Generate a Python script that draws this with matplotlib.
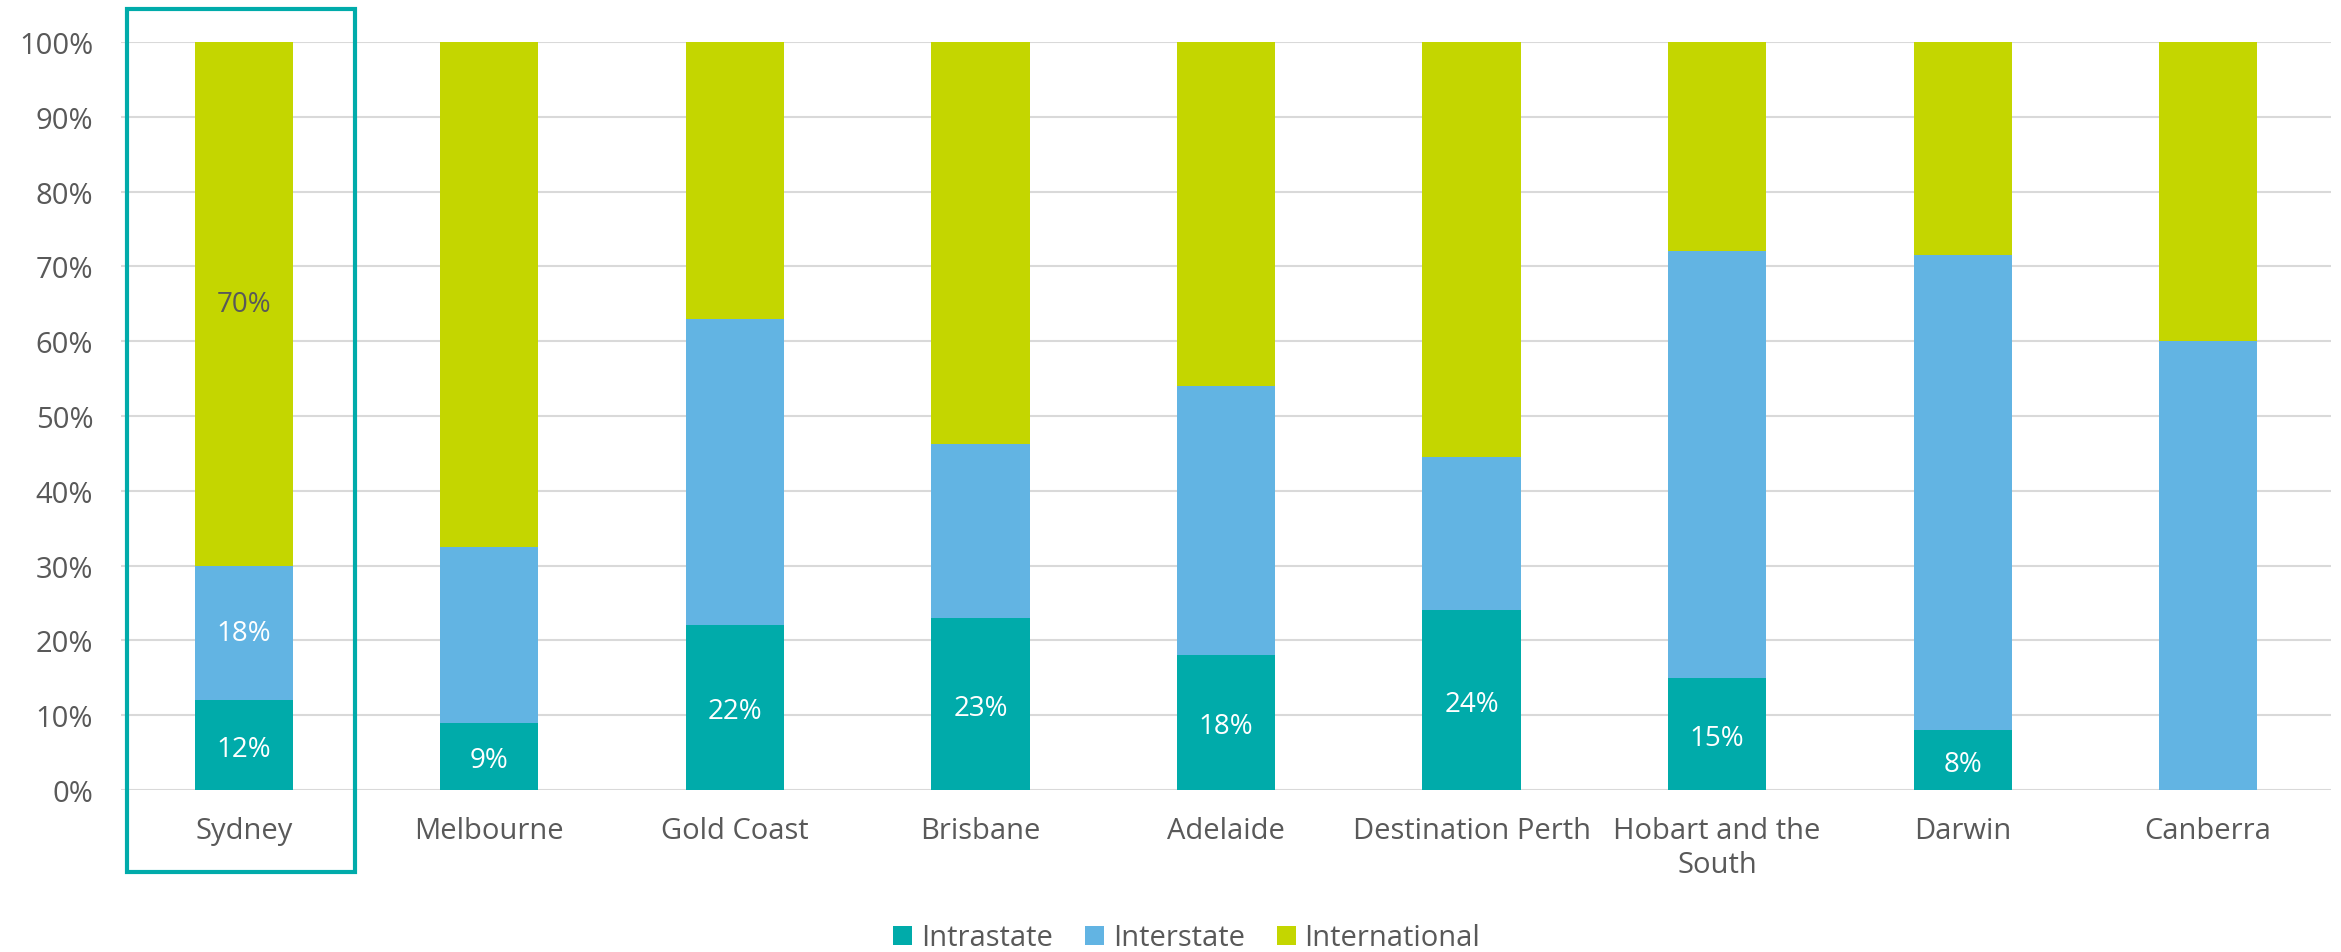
import numpy as np
import matplotlib.pyplot as plt
from matplotlib.patches import Rectangle

plt.rcParams['font.family'] = ['Open Sans', 'DejaVu Sans']

regions = ['Sydney', 'Melbourne', 'Gold Coast', 'Brisbane', 'Adelaide',
           'Destination Perth', 'Hobart and the\nSouth', 'Darwin', 'Canberra']
intrastate = [12, 9, 22, 23, 18, 24, 15, 8, 0]
interstate = [18, 23.5, 41, 23.3, 36, 20.5, 57, 63.5, 60]
international = [70, 67.5, 37, 53.7, 46, 55.5, 28, 28.5, 40]

c_intra = '#00ABAA'
c_inter = '#62B4E3'
c_intl = '#C4D600'
grey = '#595959'

fig = plt.figure(figsize=(23.41, 9.53), dpi=100)
ax = fig.add_axes([0.0517, 0.170, 0.944, 0.785])

x = np.arange(len(regions))
w = 0.4
intra = np.array(intrastate)
inter = np.array(interstate)
intl = np.array(international)

ax.bar(x, intra, w, color=c_intra, label='Intrastate', zorder=3)
ax.bar(x, inter, w, bottom=intra, color=c_inter, label='Interstate', zorder=3)
ax.bar(x, intl, w, bottom=intra + inter, color=c_intl, label='International', zorder=3)

# value labels: intrastate for all, plus the full breakdown for Sydney
for i, v in enumerate(intrastate):
    if v > 0:
        ax.text(i, v / 2 - 0.5, f'{v:.0f}%', ha='center', va='center',
                color='white', fontsize=20, zorder=4)
ax.text(0, intra[0] + inter[0] / 2, f'{inter[0]:.0f}%', ha='center', va='center',
        color='white', fontsize=20, zorder=4)
ax.text(0, intra[0] + inter[0] + intl[0] / 2, f'{intl[0]:.0f}%', ha='center',
        va='center', color=grey, fontsize=20, zorder=4)

ax.set_xlim(-0.5, len(regions) - 0.5)
ax.set_ylim(0, 100)
ax.set_yticks(np.arange(0, 101, 10))
ax.set_yticklabels([f'{t}%' for t in range(0, 101, 10)])
ax.set_xticks(x)
ax.set_xticklabels(regions)
ax.tick_params(axis='both', length=0, labelsize=21, colors=grey)
ax.tick_params(axis='x', pad=19)
ax.tick_params(axis='y', pad=20)
ax.yaxis.grid(True, color='#D9D9D9', lw=1.5, zorder=0)
for s in ax.spines.values():
    s.set_visible(False)

# box around the Sydney column
fig.patches.append(Rectangle((127 / 2341, 1 - 873 / 953), 228 / 2341, 863 / 953,
                             transform=fig.transFigure, fill=False,
                             edgecolor=c_intra, lw=3))

fig.legend(loc='center', bbox_to_anchor=(0.507, 1 - 939 / 953), ncol=3, frameon=False,
           fontsize=21, handlelength=0.65, handleheight=0.65, handletextpad=0.3,
           columnspacing=1.1, labelcolor=grey)

fig.savefig('out.png', dpi=100)
